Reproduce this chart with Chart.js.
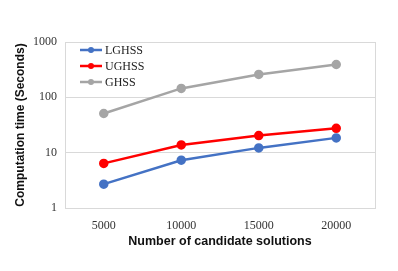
<!DOCTYPE html>
<html>
<head>
<meta charset="utf-8">
<script src="https://cdn.jsdelivr.net/npm/chart.js@4"></script>
<style>
  html, body { margin: 0; padding: 0; background: #fff; }
  #wrap { width: 398px; height: 271px; }
</style>
</head>
<body>
<div id="wrap"><canvas id="myChart" width="398" height="271"></canvas></div>
<script>
const candidates = ['5000', '10000', '15000', '20000'];
const lghss = [2.7, 7.3, 12.2, 18.5];
const ughss = [6.4, 13.8, 20.4, 27.6];
const ghss = [51, 145, 259, 392];
const yTicks = [1, 10, 100, 1000];

const seriesNames = ['LGHSS', 'UGHSS', 'GHSS'];
const seriesColors = ['#4472c4', '#ff0000', '#a5a5a5'];

// legend drawn inside the plot, top-left, plus the box around the plot
const boxAndLegend = {
    id: 'boxAndLegend',
    afterDraw(chart) {
        const ctx = chart.ctx;
        const area = chart.chartArea;
        ctx.save();
        ctx.strokeStyle = '#d9d9d9';
        ctx.lineWidth = 1;
        ctx.strokeRect(area.left + 0.5, area.top + 0.5, area.right - area.left, area.bottom - area.top);

        ctx.font = '12px "Liberation Serif", "Times New Roman", serif';
        ctx.textBaseline = 'middle';
        seriesNames.forEach((name, i) => {
            const y = area.top + 8 + i * 16;
            const x = area.left + 15;
            ctx.strokeStyle = seriesColors[i];
            ctx.fillStyle = seriesColors[i];
            ctx.lineWidth = 2.5;
            ctx.beginPath();
            ctx.moveTo(x, y);
            ctx.lineTo(x + 22, y);
            ctx.stroke();
            ctx.beginPath();
            ctx.arc(x + 11, y, 3, 0, Math.PI * 2);
            ctx.fill();
            ctx.fillStyle = '#222';
            ctx.fillText(name, x + 25, y + 1);
        });
        ctx.restore();
    }
};

const datasets = [lghss, ughss, ghss].map((values, i) => ({
    label: seriesNames[i],
    data: values,
    borderColor: seriesColors[i],
    backgroundColor: seriesColors[i],
    borderWidth: 2.5,
    pointRadius: 3.5,
    pointHoverRadius: 3.5,
    tension: 0,
}));

new Chart(document.getElementById('myChart'), {
    type: 'line',
    data: { labels: candidates, datasets },
    options: {
        responsive: false,
        animation: false,
        layout: { padding: { top: 42, right: 23, left: 13, bottom: 22 } },
        plugins: {
            legend: { display: false },
            tooltip: { enabled: false },
        },
        scales: {
            x: {
                type: 'category',
                offset: true,
                grid: { display: false },
                border: { display: false },
                ticks: {
                    color: '#333',
                    font: { family: '"Liberation Serif", "Times New Roman", serif', size: 12 },
                    padding: 3,
                    maxRotation: 0,
                },
                title: {
                    display: true,
                    text: 'Number of candidate solutions',
                    color: '#111',
                    font: { family: '"Liberation Sans", Arial, sans-serif', size: 12.5, weight: 'bold' },
                    padding: { top: 2, bottom: 0 },
                },
                afterFit(scale) { scale.height = 41; },
            },
            y: {
                type: 'logarithmic',
                min: 1,
                max: 1000,
                afterBuildTicks(scale) {
                    scale.ticks = yTicks.map(v => ({ value: v }));
                },
                grid: { color: '#d9d9d9', lineWidth: 1, drawTicks: false },
                border: { display: false },
                ticks: {
                    color: '#333',
                    font: { family: '"Liberation Serif", "Times New Roman", serif', size: 12 },
                    padding: 8,
                    callback: v => String(v),
                },
                title: {
                    display: true,
                    text: 'Computation time (Seconds)',
                    color: '#111',
                    font: { family: '"Liberation Sans", Arial, sans-serif', size: 12, weight: 'bold' },
                    padding: { top: 0, bottom: 4 },
                },
                afterFit(scale) { scale.width = 52; },
            },
        },
    },
    plugins: [boxAndLegend],
});
</script>
</body>
</html>
